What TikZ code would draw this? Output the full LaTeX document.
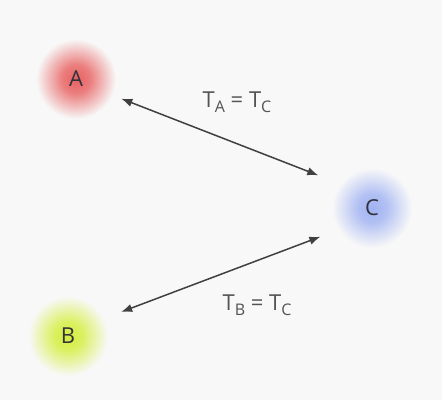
\documentclass[tikz,border=0pt]{standalone}
\usepackage{fontspec}
\setmainfont{Open Sans}
\usepackage{xcolor}
\usepackage{tikz}
\usetikzlibrary{arrows.meta}
\definecolor{bgcol}{RGB}{248,248,248}
\definecolor{glowA}{RGB}{232,96,96}
\definecolor{glowB}{RGB}{212,238,60}
\definecolor{glowC}{RGB}{160,178,242}
\definecolor{inkcol}{RGB}{50,50,62}
\definecolor{arrcol}{RGB}{64,64,64}
\pgfdeclareradialshading{glowshA}{\pgfpoint{0bp}{0bp}}{color(0bp)=(glowA); color(9bp)=(glowA!80!bgcol); color(17bp)=(glowA!40!bgcol); color(25bp)=(bgcol); color(50bp)=(bgcol)}
\pgfdeclareradialshading{glowshB}{\pgfpoint{0bp}{0bp}}{color(0bp)=(glowB); color(9bp)=(glowB!80!bgcol); color(17bp)=(glowB!40!bgcol); color(25bp)=(bgcol); color(50bp)=(bgcol)}
\pgfdeclareradialshading{glowshC}{\pgfpoint{0bp}{0bp}}{color(0bp)=(glowC); color(9bp)=(glowC!80!bgcol); color(17bp)=(glowC!40!bgcol); color(25bp)=(bgcol); color(50bp)=(bgcol)}
\newcommand{\tsub}[1]{T\raisebox{-0.45ex}{\fontsize{8}{9}\selectfont #1}}
\tikzset{
  ball/.style={circle,minimum size=40pt,inner sep=0pt,text=inkcol,
    font=\fontsize{11}{13}\selectfont},
  lbl/.style={text=arrcol!90,font=\fontsize{11}{13}\selectfont}
}

\begin{document}
\begin{tikzpicture}[x=0.5pt,y=-0.5pt,>={Latex[length=5.5pt,width=4.2pt]}]
  \useasboundingbox[fill=bgcol] (0,0) rectangle (442,400);
  \node[ball,shading=glowshA] (A) at (76,79) {A};
  \node[ball,shading=glowshB] (B) at (68,336) {B};
  \node[ball,shading=glowshC] (C) at (372,208) {C};
  \draw[<->,arrcol,line width=0.75pt,shorten <=4.5pt,shorten >=11.5pt]
    (A.-24) -- (C.143);
  \draw[<->,arrcol,line width=0.75pt,shorten <=9pt,shorten >=9.5pt]
    (B.26) -- (C.-147);
  \node[lbl] (tac) at (237,102) {\tsub{A}\ = \tsub{C}};
  \node[lbl] (tbc) at (257,305) {\tsub{B}\ = \tsub{C}};
\end{tikzpicture}
\end{document}
